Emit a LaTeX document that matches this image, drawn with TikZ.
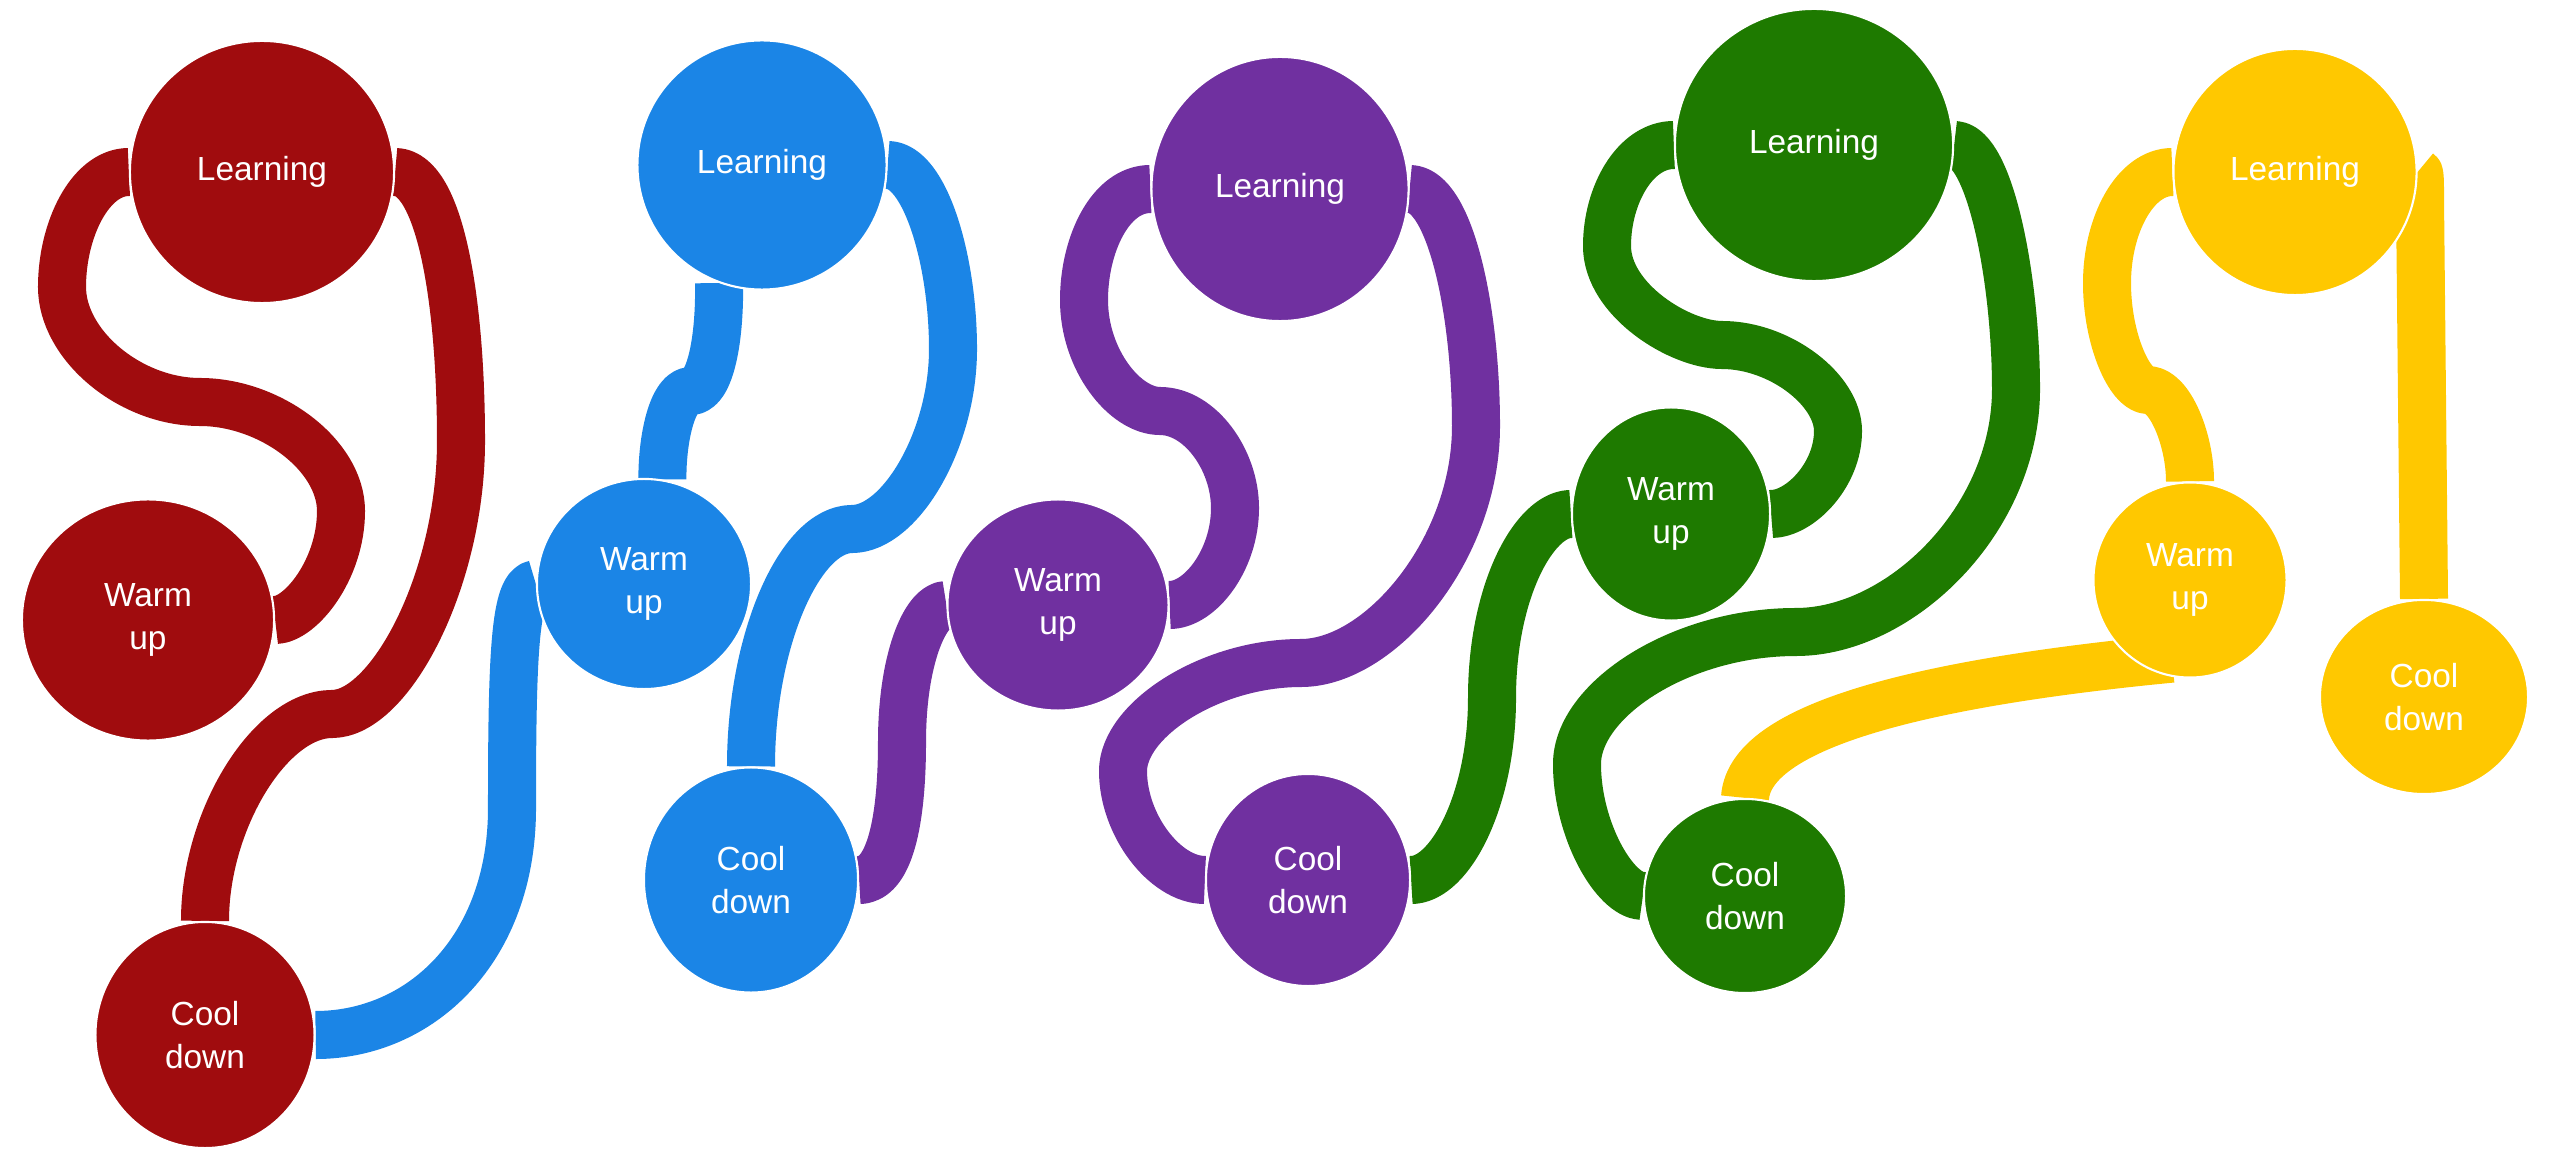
\documentclass[tikz,border=0pt]{standalone}
\usepackage{fontspec}
\setmainfont{Liberation Sans}
\usetikzlibrary{shapes.geometric,backgrounds}
\definecolor{cred}{HTML}{A00C0E}
\definecolor{cblue}{HTML}{1B85E6}
\definecolor{cpurple}{HTML}{7030A0}
\definecolor{cgreen}{HTML}{1E7A00}
\definecolor{cyellow}{HTML}{FFC800}
\begin{document}
\begin{tikzpicture}[x=0.01cm,y=-0.01cm,
  band/.style={line width=0.48cm, line cap=butt, line join=round},
  bub/.style={ellipse, draw=white, line width=0.6pt, inner sep=0pt, text=white,
    align=center, font=\fontsize{9.5}{12}\selectfont}]
\useasboundingbox (0,0) rectangle (2560,1152);
% ---- bubbles ----
\node[bub, fill=cred, minimum width=2.64cm, minimum height=2.62cm] (rL) at (262,172) {Learning};
\node[bub, fill=cred, minimum width=2.52cm, minimum height=2.41cm] (rW) at (148,620) {Warm\\up};
\node[bub, fill=cred, minimum width=2.19cm, minimum height=2.26cm] (rC) at (205,1035) {Cool\\down};
\node[bub, fill=cblue, minimum width=2.49cm, minimum height=2.49cm] (bL) at (762,165) {Learning};
\node[bub, fill=cblue, minimum width=2.14cm, minimum height=2.10cm] (bW) at (644,584) {Warm\\up};
\node[bub, fill=cblue, minimum width=2.14cm, minimum height=2.25cm] (bC) at (751,880) {Cool\\down};
\node[bub, fill=cpurple, minimum width=2.57cm, minimum height=2.64cm] (pL) at (1280,189) {Learning};
\node[bub, fill=cpurple, minimum width=2.21cm, minimum height=2.11cm] (pW) at (1058,605) {Warm\\up};
\node[bub, fill=cpurple, minimum width=2.04cm, minimum height=2.12cm] (pC) at (1308,880) {Cool\\down};
\node[bub, fill=cgreen, minimum width=2.78cm, minimum height=2.72cm] (gL) at (1814,145) {Learning};
\node[bub, fill=cgreen, minimum width=1.98cm, minimum height=2.13cm] (gW) at (1671,514) {Warm\\up};
\node[bub, fill=cgreen, minimum width=2.02cm, minimum height=1.94cm] (gC) at (1745,896) {Cool\\down};
\node[bub, fill=cyellow, minimum width=2.43cm, minimum height=2.46cm] (yL) at (2295,172) {Learning};
\node[bub, fill=cyellow, minimum width=1.93cm, minimum height=1.95cm] (yW) at (2190,580) {Warm\\up};
\node[bub, fill=cyellow, minimum width=2.08cm, minimum height=1.94cm] (yC) at (2424,697) {Cool\\down};
% ---- bands (behind the bubbles) ----
\begin{scope}[on background layer]
\draw[band, cred] (rL.west) .. controls (90,172) and (62,230) .. (62,287)
  .. controls (62,345) and (130,402) .. (200,402)
  .. controls (270,402) and (341,455) .. (341,511)
  .. controls (341,570) and (300,620) .. (rW.east);
\draw[band, cred] (rL.east) .. controls (440,172) and (461,300) .. (461,441)
  .. controls (461,580) and (390,714) .. (332,714)
  .. controls (270,714) and (205,820) .. (rC.north);
\draw[band, cblue] (rC.east) .. controls (420,1035) and (512,950) .. (512,808)
  .. controls (512,650) and (515,586) .. (bW.west);
\draw[band, cblue] (bL.-110) .. controls (720,340) and (710,391) .. (691,391)
  .. controls (672,391) and (662,440) .. (bW.80);
\draw[band, cblue] (bL.east) .. controls (925,165) and (953,260) .. (953,349)
  .. controls (953,440) and (900,529) .. (852,529)
  .. controls (800,529) and (751,640) .. (bC.north);
\draw[band, cpurple] (bC.east) .. controls (890,880) and (902,820) .. (902,742)
  .. controls (902,660) and (925,605) .. (pW.west);
\draw[band, cpurple] (pL.west) .. controls (1110,189) and (1084,245) .. (1084,300)
  .. controls (1084,360) and (1125,411) .. (1160,411)
  .. controls (1200,411) and (1235,460) .. (1235,508)
  .. controls (1235,560) and (1200,605) .. (pW.east);
\draw[band, cpurple] (pL.east) .. controls (1450,189) and (1476,310) .. (1476,426)
  .. controls (1476,550) and (1380,663) .. (1301,663)
  .. controls (1210,663) and (1123,720) .. (1123,771)
  .. controls (1123,825) and (1165,880) .. (pC.west);
\draw[band, cgreen] (pC.east) .. controls (1450,880) and (1492,800) .. (1492,698)
  .. controls (1492,590) and (1535,514) .. (gW.west);
\draw[band, cgreen] (gL.west) .. controls (1635,145) and (1607,195) .. (1607,246)
  .. controls (1607,300) and (1680,345) .. (1722,345)
  .. controls (1780,345) and (1838,390) .. (1838,431)
  .. controls (1838,475) and (1800,514) .. (gW.east);
\draw[band, cgreen] (gL.east) .. controls (1990,145) and (2016,280) .. (2016,389)
  .. controls (2016,520) and (1900,632) .. (1796,632)
  .. controls (1680,632) and (1577,700) .. (1577,764)
  .. controls (1577,830) and (1615,896) .. (gC.west);
\draw[band, cyellow] (yL.west) .. controls (2135,172) and (2107,225) .. (2107,283)
  .. controls (2107,340) and (2130,390) .. (2148,390)
  .. controls (2170,390) and (2190,440) .. (yW.north);
\draw[band, cyellow] (yL.east) .. controls (2420,171) and (2420,180) .. (2420,200)
  -- (yC.north);
\draw[band, cyellow] ([shift={(-18,-20)}]yW.south) .. controls (1950,680) and (1750,720) .. (gC.north);
\end{scope}
\end{tikzpicture}
\end{document}
